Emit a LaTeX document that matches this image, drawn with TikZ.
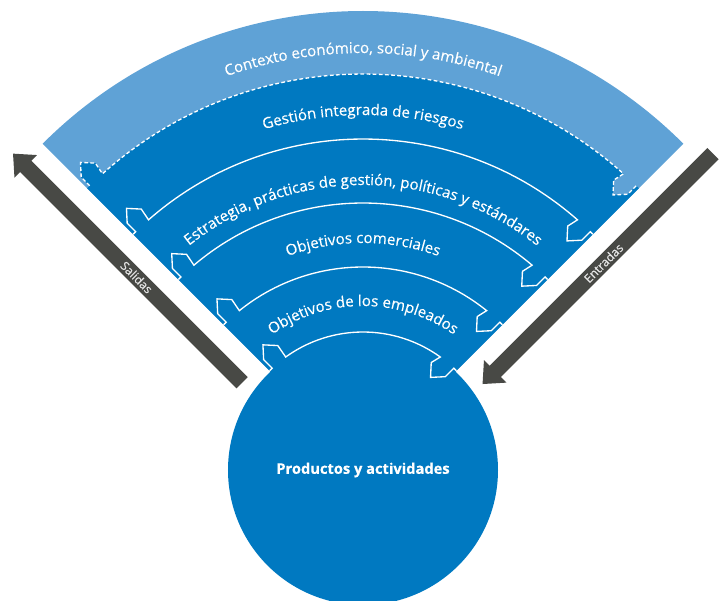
\documentclass[tikz,border=0pt]{standalone}
\usepackage{fontspec}
\setmainfont{Open Sans}
\newfontfamily\mediumsans{Open Sans}[FakeBold=0.4]
\usetikzlibrary{decorations.text,arrows.meta}
\definecolor{lightband}{HTML}{5FA2D6}
\definecolor{darkband}{HTML}{0079C1}
\definecolor{arrowgray}{HTML}{484945}
\definecolor{arrowtext}{HTML}{E6E6E6}
\newcommand\curvefont{\mediumsans\fontsize{11.3}{13}\selectfont\color{white}}
\newcommand\flowcoords[2]{%
  \pgfmathsetmacro\fa{#1+12}%
  \pgfmathsetmacro\fb{#1+23}%
  \pgfmathsetmacro\fc{#1-12}%
  \pgfmathsetmacro\fd{#1-23}%
  \pgfmathsetmacro\fdl{asin(21/#1)}%
  \pgfmathsetmacro\fsl{135-\fdl}%
  \pgfmathsetmacro\fsr{45+\fdl}%
  \coordinate (#2L1) at (135:#1);
  \coordinate (#2L2) at ([shift={(45:3.5)}]135:#1);
  \coordinate (#2L3) at ([shift={(45:3.5)}]135:\fa);
  \coordinate (#2L4) at ([shift={(45:13.5)}]135:\fb);
  \coordinate (#2L5) at ([shift={(45:23.5)}]135:\fa);
  \coordinate (#2L6) at (\fsl:#1);
  \coordinate (#2R5) at ([shift={(135:23.5)}]45:\fc);
  \coordinate (#2R4) at ([shift={(135:13.5)}]45:\fd);
  \coordinate (#2R3) at ([shift={(135:3.5)}]45:\fc);
  \coordinate (#2R2) at ([shift={(135:3.5)}]45:#1);
  \coordinate (#2R1) at (45:#1);
}
\begin{document}
\begin{tikzpicture}[x=0.75pt,y=0.75pt,
  flowline/.style={draw=white, line width=1pt, line join=miter},
  dashline/.style={flowline, dash pattern=on 2.8pt off 1.8pt},
  grayarrow/.style={draw=arrowgray, line width=12pt,
    -{Triangle[width=23pt,length=13.5pt]}},
  arrowlabel/.style={text=arrowtext, font=\mediumsans\fontsize{9}{10}\selectfont, sloped},
  curvelabel/.style={decorate, decoration={text along path, text align=center, text={#1}}}
]
\useasboundingbox (-363,-136) rectangle (361,464);

% outer light band
\fill[lightband] (0,0) -- (135:453) arc[start angle=135,end angle=45,radius=453] -- cycle;

% central circle
\node[circle, fill=darkband, minimum size=202.5pt, inner sep=0pt] (prod) at (0,-6) {};

% dark region bounded by the dashed flow line
\flowcoords{390}{d}
\fill[darkband] (0,0) -- (dL1) -- (dL2) -- (dL3) -- (dL4) -- (dL5) -- (dL6)
  arc[start angle=\fsl, end angle=\fsr, radius=390]
  -- (dR5) -- (dR4) -- (dR3) -- (dR2) -- (dR1) -- cycle;
\draw[dashline] (dL2) -- (dL3) -- (dL4) -- (dL5) -- (dL6)
  arc[start angle=\fsl, end angle=\fsr, radius=390]
  -- (dR5) -- (dR4) -- (dR3) -- (dR2);

% inner flow lines
\foreach \r in {325,261,197,132} {
  \flowcoords{\r}{f}
  \draw[flowline] (fL1) -- (fL2) -- (fL3) -- (fL4) -- (fL5) -- (fL6)
    arc[start angle=\fsl, end angle=\fsr, radius=\r]
    -- (fR5) -- (fR4) -- (fR3) -- (fR2) -- (fR1);
}

% outputs / inputs arrows
\coordinate (salTail) at ([shift={(45:-28)}]135:143);
\coordinate (salHead) at ([shift={(45:-28)}]135:467);
\coordinate (entTail) at ([shift={(135:-28)}]45:467);
\coordinate (entHead) at ([shift={(135:-28)}]45:141);
\draw[grayarrow] (salTail) -- (salHead) node[arrowlabel, pos=0.46] (sal) {Salidas};
\draw[grayarrow] (entTail) -- (entHead) node[arrowlabel, pos=0.475] (ent) {Entradas};

% curved labels
\path[curvelabel={|\curvefont|Contexto económico, social y ambiental}]
  (134:411) arc[start angle=134, end angle=46, radius=411];
\path[curvelabel={|\curvefont|Gestión integrada de riesgos}]
  (134:349) arc[start angle=134, end angle=46, radius=349];
\path[curvelabel={|\curvefont|Estrategia, prácticas de gestión, políticas y estándares}]
  (134:279) arc[start angle=134, end angle=46, radius=279];
\path[curvelabel={|\curvefont|Objetivos comerciales}]
  (134:221) arc[start angle=134, end angle=46, radius=221];
\path[curvelabel={|\curvefont|Objetivos de los empleados}]
  (134:158) arc[start angle=134, end angle=46, radius=158];

\node[text=white, font=\mediumsans\fontsize{11}{13}\selectfont\bfseries] (prodlabel) at (prod.center) {Productos y actividades};
\end{tikzpicture}
\end{document}
